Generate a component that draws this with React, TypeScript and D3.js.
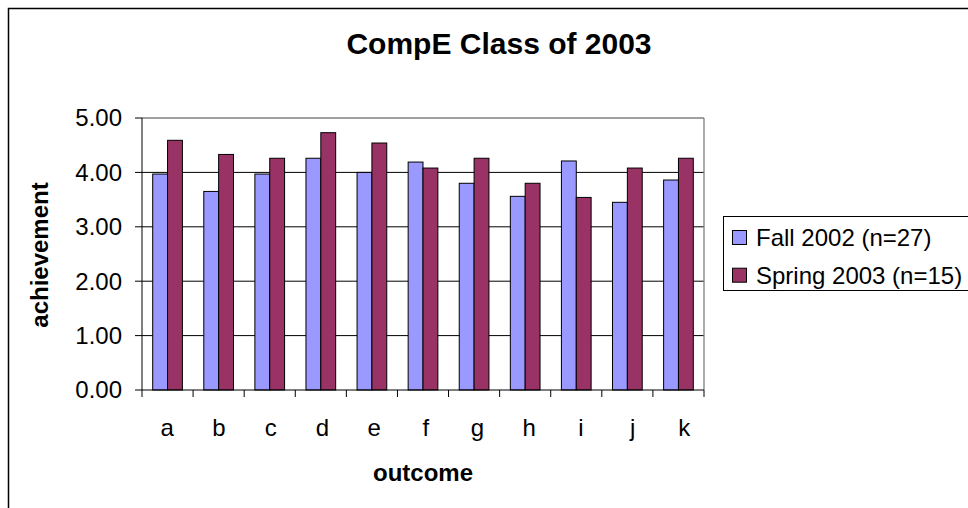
import React from "react";
import * as d3 from "d3";

const categories = ["a", "b", "c", "d", "e", "f", "g", "h", "i", "j", "k"];
const seriesNames = ["Fall 2002 (n=27)", "Spring 2003 (n=15)"];
const fall2002 = [3.97, 3.65, 3.97, 4.26, 4.0, 4.19, 3.8, 3.56, 4.21, 3.45, 3.86];
const spring2003 = [4.59, 4.33, 4.26, 4.73, 4.54, 4.08, 4.26, 3.8, 3.54, 4.08, 4.26];
const yTicks = [0, 1, 2, 3, 4, 5];
const colors = ["#9999FF", "#993366"];

const FONT = "'Liberation Sans', Arial, sans-serif";

export default function App() {
  const left = 142, right = 704, top = 118, bottom = 390;
  const x = d3.scaleBand<string>().domain(categories).range([left, right]).padding(0);
  const xs = d3
    .scaleBand<string>()
    .domain(seriesNames)
    .range([0, x.bandwidth()])
    .paddingInner(0)
    .paddingOuter(0.72);
  const xLabel = d3.scalePoint<string>().domain(categories).range([167.3, 684.3]);
  const y = d3.scaleLinear().domain([0, 5]).range([bottom, top]);
  const values = [fall2002, spring2003];
  const boundaries = categories.map((c) => x(c) as number).concat([right]);

  return (
    <svg
      width={968}
      height={508}
      style={{ position: "absolute", left: 0, top: 0, background: "#fff" }}
      fontFamily={FONT}
    >
      <rect x={0} y={0} width={968} height={508} fill="#fff" />
      <rect x={8.5} y={8.5} width={1000} height={600} fill="#fff" stroke="#000" strokeWidth={1.5} />
      <text x={499} y={54} textAnchor="middle" fontSize={30} fontWeight="bold">
        CompE Class of 2003
      </text>

      {/* gridlines */}
      {yTicks.filter((t) => t > 0 && t < 5).map((t) => (
        <line key={t} x1={left} x2={right} y1={y(t)} y2={y(t)} stroke="#000" strokeWidth={1} />
      ))}
      {/* plot border */}
      <line x1={left} x2={right} y1={top} y2={top} stroke="#808080" strokeWidth={1.3} />
      <line x1={right} x2={right} y1={top} y2={bottom} stroke="#808080" strokeWidth={1.3} />

      {/* bars */}
      {values.map((vals, si) =>
        vals.map((v, i) => {
          const bx = (x(categories[i]) as number) + (xs(seriesNames[si]) as number);
          return (
            <rect
              key={si + "-" + i}
              x={bx}
              y={y(v)}
              width={xs.bandwidth()}
              height={y(0) - y(v)}
              fill={colors[si]}
              stroke="#000"
              strokeWidth={1}
            />
          );
        })
      )}

      {/* axes */}
      <line x1={left} x2={left} y1={top} y2={bottom} stroke="#000" strokeWidth={1} />
      <line x1={left} x2={right} y1={bottom} y2={bottom} stroke="#000" strokeWidth={1} />
      {yTicks.map((t) => (
        <g key={"yt" + t}>
          <line x1={left - 7} x2={left} y1={y(t)} y2={y(t)} stroke="#000" />
          <text x={122} y={y(t)} dy="0.35em" textAnchor="end" fontSize={24}>
            {t.toFixed(2)}
          </text>
        </g>
      ))}
      {boundaries.map((b, i) => (
        <line key={"xt" + i} x1={b} x2={b} y1={bottom} y2={bottom + 7} stroke="#000" />
      ))}
      {categories.map((c) => (
        <text key={"xl" + c} x={xLabel(c) as number} y={436} textAnchor="middle" fontSize={24}>
          {c}
        </text>
      ))}
      <text x={423} y={481} textAnchor="middle" fontSize={24} fontWeight="bold">
        outcome
      </text>
      <text
        transform={`translate(48,255) rotate(-90)`}
        textAnchor="middle"
        fontSize={24}
        fontWeight="bold"
      >
        achievement
      </text>

      {/* legend */}
      <rect x={723.5} y={216.5} width={300} height={74} fill="#fff" stroke="#000" strokeWidth={1} />
      {seriesNames.map((s, i) => (
        <g key={"lg" + i}>
          <rect
            x={732.5}
            y={230.5 + i * 37.7}
            width={14}
            height={14}
            fill={colors[i]}
            stroke="#000"
            strokeWidth={1}
          />
          <text x={756} y={246 + i * 37.7} fontSize={24}>
            {s}
          </text>
        </g>
      ))}
    </svg>
  );
}
